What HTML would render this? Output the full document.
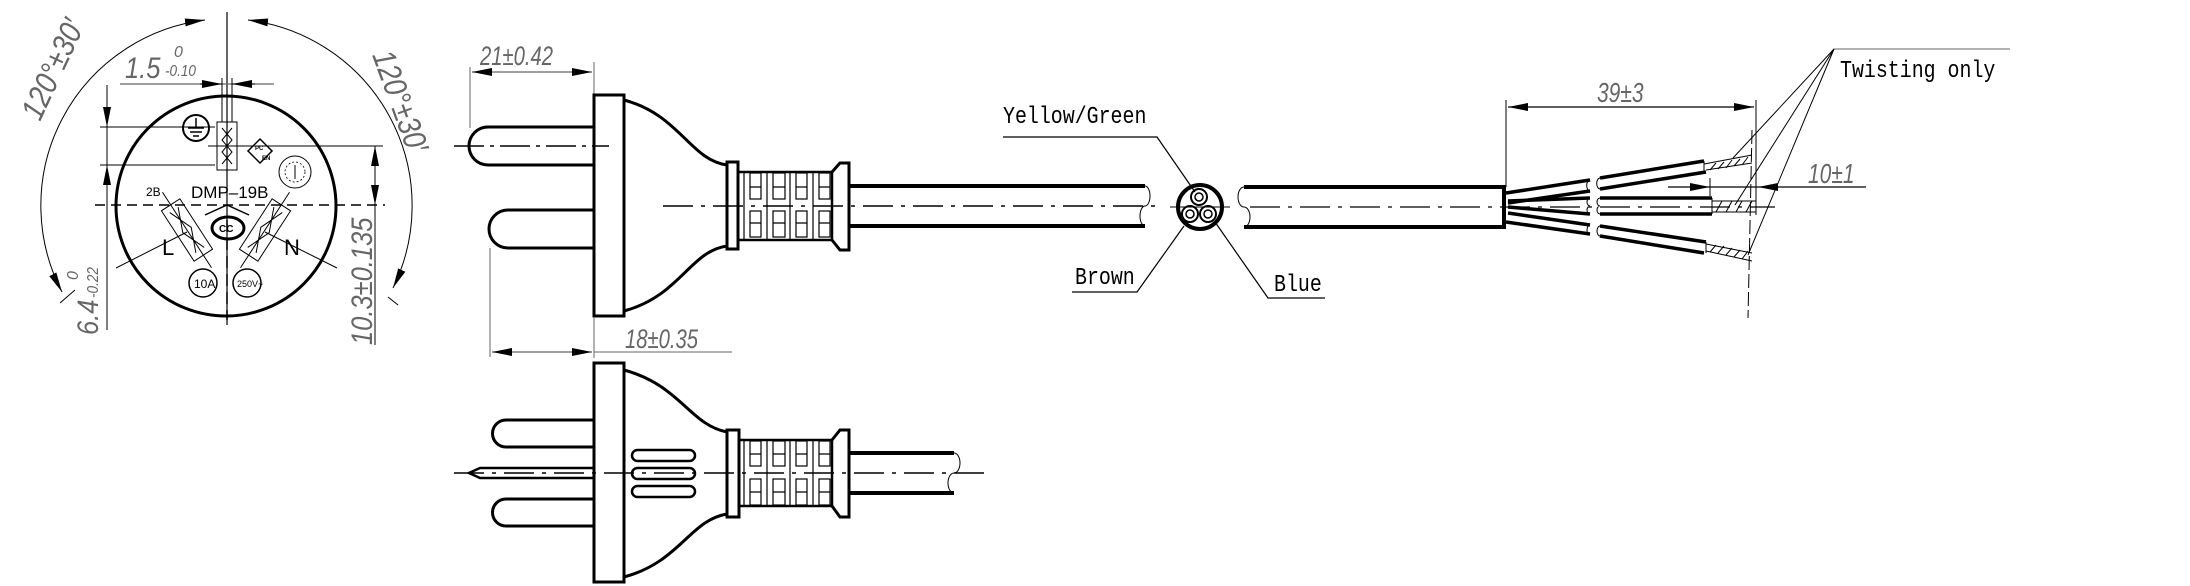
<!DOCTYPE html>
<html><head><meta charset="utf-8"><style>
html,body{margin:0;padding:0;background:#fff}
svg{display:block}
.t{font-family:"Liberation Mono","DejaVu Sans Mono",monospace;fill:#000}
.d{font-family:"Liberation Sans",sans-serif;font-style:italic;fill:#666}
.s{font-family:"Liberation Sans",sans-serif;fill:#000}
</style></head><body>
<svg width="2190" height="586" viewBox="0 0 2190 586" xmlns="http://www.w3.org/2000/svg">
<defs>
<marker id="a" viewBox="0 0 10 6" refX="10" refY="3" markerWidth="10" markerHeight="6" orient="auto-start-reverse" markerUnits="userSpaceOnUse"><path d="M0,0L10,3L0,6z" fill="#000"/></marker>
<marker id="b" viewBox="0 0 20 8" refX="20" refY="4" markerWidth="20" markerHeight="8" orient="auto-start-reverse" markerUnits="userSpaceOnUse"><path d="M0,0L20,4L0,8z" fill="#000"/></marker>
</defs>
<g fill="none" stroke="#000">
<circle cx="226" cy="206" r="110" stroke-width="3"/>
<line x1="227" y1="12" x2="227" y2="325" stroke-width="1.2"/>
<line x1="95" y1="205" x2="385" y2="205" stroke-width="1.5" stroke-dasharray="10,6"/>
<path d="M62,292 A187,187 0 0 1 205,20" stroke-width="1" marker-end="url(#b)" marker-start="url(#b)"/>
<path d="M248,20 A187,187 0 0 1 393,288" stroke-width="1" marker-end="url(#b)" marker-start="url(#b)"/>
<line x1="60" y1="303" x2="75" y2="290" stroke-width="1"/>
<line x1="388" y1="297" x2="398" y2="305" stroke-width="1"/>
<line x1="120" y1="84" x2="274" y2="84" stroke="#666" stroke-width="1.2"/>
<line x1="200" y1="84" x2="222" y2="84" marker-end="url(#b)"/>
<line x1="255" y1="84" x2="232" y2="84" marker-end="url(#b)"/>
<line x1="222" y1="78" x2="222" y2="122" stroke-width="1"/>
<line x1="232" y1="78" x2="232" y2="122" stroke-width="1"/>
<rect x="217" y="122" width="20" height="48" stroke-width="1"/>
<path d="M222,128 L232,140 L222,152 L232,164 M232,128 L222,140 L232,152 L222,164" stroke-width="1"/>
<line x1="208" y1="146" x2="383" y2="146" stroke-width="1"/>
<circle cx="196" cy="128" r="13" stroke-width="2"/>
<path d="M196,118v10M188,128h16M190,132h12M193,136h6" stroke-width="1.5"/>
<line x1="100" y1="127" x2="215" y2="127" stroke-width="1"/>
<line x1="100" y1="165" x2="215" y2="165" stroke-width="1"/>
<line x1="107" y1="85" x2="107" y2="330" stroke-width="1"/>
<line x1="107" y1="100" x2="107" y2="127" marker-end="url(#b)"/>
<line x1="107" y1="195" x2="107" y2="165" marker-end="url(#b)"/>
<line x1="375" y1="146" x2="375" y2="345" stroke-width="1"/>
<line x1="375" y1="175" x2="375" y2="146" marker-end="url(#b)"/>
<line x1="375" y1="180" x2="375" y2="205" marker-end="url(#b)"/>
<path d="M260,139 L272,151 L260,163 L248,151z" stroke-width="1.5"/>
<circle cx="295" cy="172" r="16" stroke-width="1"/>
<circle cx="295" cy="172" r="10" stroke-width="0.8" stroke-dasharray="2,2"/>
<line x1="295" y1="165" x2="295" y2="179" stroke-width="1"/>
<g transform="translate(187,230) rotate(-33)">
<rect x="-11" y="-30" width="22" height="60" stroke-width="1"/>
<path d="M-5,-24 L5,0 L-5,24 M5,-24 L-5,0 L5,24" stroke-width="1"/>
<line x1="0" y1="-45" x2="0" y2="45" stroke-width="1"/>
</g>
<g transform="translate(265,230) rotate(33)">
<rect x="-11" y="-30" width="22" height="60" stroke-width="1"/>
<path d="M-5,-24 L5,0 L-5,24 M5,-24 L-5,0 L5,24" stroke-width="1"/>
<line x1="0" y1="-45" x2="0" y2="45" stroke-width="1"/>
</g>
<line x1="116" y1="268" x2="187" y2="232" stroke-width="1"/>
<line x1="337" y1="268" x2="265" y2="232" stroke-width="1"/>
<path d="M205,215 L227,205 L249,215" stroke-width="1.5"/>
<ellipse cx="228" cy="228" rx="16" ry="11" stroke-width="3"/>
<circle cx="203" cy="283" r="14" stroke-width="1.5"/>
<circle cx="247" cy="283" r="14" stroke-width="1.5"/>
<line x1="227" y1="220" x2="227" y2="320" stroke-width="1.5" stroke-dasharray="12,6"/>

<line x1="470" y1="67" x2="470" y2="128" stroke="#666" stroke-width="1"/>
<line x1="594" y1="62" x2="594" y2="95" stroke="#666" stroke-width="1"/>
<line x1="472" y1="72" x2="592" y2="72" stroke="#666" stroke-width="1.2" marker-start="url(#b)" marker-end="url(#b)"/>
<line x1="490" y1="248" x2="490" y2="357" stroke="#666" stroke-width="1"/>
<line x1="594" y1="318" x2="594" y2="358" stroke="#666" stroke-width="1"/>
<line x1="492" y1="352" x2="592" y2="352" stroke="#666" stroke-width="1.2" marker-start="url(#b)" marker-end="url(#b)"/>
<line x1="594" y1="352" x2="732" y2="352" stroke="#666" stroke-width="1"/>
<rect x="594" y="95" width="30" height="221" stroke-width="3"/>
<path d="M594,127 H488 A19,19 0 0 0 488,165 H594" stroke-width="3"/>
<path d="M594,210 H508 A19,19 0 0 0 508,248 H594" stroke-width="3"/>
<line x1="454" y1="146" x2="609" y2="146" stroke-width="1.5" stroke-dasharray="30,6,4,6"/>
<path d="M624,100 C680,115 690,160 727,165" stroke-width="3"/>
<path d="M624,311 C680,296 690,251 727,246" stroke-width="3"/>
<rect x="727" y="162" width="11" height="87" stroke-width="3"/>
<rect x="738" y="172" width="94" height="68" stroke-width="2.5"/>
<g stroke-width="1.2">
<rect x="750" y="173" width="11" height="26"/><rect x="773" y="173" width="12" height="26"/><rect x="796" y="173" width="11" height="26"/><rect x="819" y="173" width="11" height="26"/>
<rect x="750" y="211" width="11" height="26"/><rect x="773" y="211" width="12" height="26"/><rect x="796" y="211" width="11" height="26"/><rect x="819" y="211" width="11" height="26"/>
<path d="M750,187h11M773,187h12M796,187h11M819,187h11M750,223h11M773,223h12M796,223h11M819,223h11"/>
<path d="M744,172v68M767,172v68M790,172v68M813,172v68"/>
</g>
<path d="M832,172 L840,163 H849 V250 H840 L832,240" stroke-width="3"/>
<line x1="849" y1="186" x2="1145" y2="186" stroke-width="4"/>
<line x1="849" y1="226" x2="1145" y2="226" stroke-width="4"/>
<path d="M1145,186 a5,10 0 0 1 0,20 a5,10 0 0 0 0,20" stroke-width="1"/>
<line x1="663" y1="206" x2="1162" y2="206" stroke-width="1.5" stroke-dasharray="30,8,4,8"/>

<circle cx="1200" cy="207" r="22" stroke-width="4"/>
<circle cx="1199" cy="197" r="8" stroke-width="2"/><circle cx="1199" cy="197" r="4" stroke-width="1.5"/>
<circle cx="1190" cy="214" r="8" stroke-width="2"/><circle cx="1190" cy="214" r="4" stroke-width="1.5"/>
<circle cx="1208" cy="214" r="8" stroke-width="2"/><circle cx="1208" cy="214" r="4" stroke-width="1.5"/>
<line x1="1170" y1="207" x2="1230" y2="207" stroke-width="1"/>
<path d="M1003,137 H1157 L1195,192" stroke-width="1.2"/>
<path d="M1072,292 H1137 L1184,226" stroke-width="1.2"/>
<path d="M1325,298 H1268 L1215,222" stroke-width="1.2"/>
<path d="M1244,187 a6,10 0 0 0 0,20 a6,10 0 0 1 0,20" stroke-width="1"/>
<line x1="1244" y1="187" x2="1504" y2="187" stroke-width="4"/>
<line x1="1244" y1="227" x2="1504" y2="227" stroke-width="4"/>
<line x1="1504" y1="185" x2="1504" y2="229" stroke-width="4"/>
<line x1="1250" y1="207" x2="1775" y2="207" stroke-width="1.2" stroke-dasharray="30,8,4,8"/>
<g stroke-width="3.5">
<path d="M1506,193 L1590,180 M1600,178 L1704,161"/>
<path d="M1508,203 L1590,191 M1600,189 L1706,172"/>
<path d="M1508,201 L1590,198 M1600,198 L1712,198"/>
<path d="M1508,207 L1590,214 M1600,214 L1712,214"/>
<path d="M1508,213 L1590,225 M1600,226 L1706,242"/>
<path d="M1506,222 L1590,234 M1600,236 L1704,253"/>
</g>
<g stroke-width="1">
<path d="M1590,180 a3,5 0 0 0 0,11 M1600,178 a3,5 0 0 0 0,11"/>
<path d="M1590,198 a3,4 0 0 0 0,8 a3,4 0 0 0 0,8 M1600,198 a3,4 0 0 0 0,8 a3,4 0 0 0 0,8"/>
<path d="M1590,225 a3,5 0 0 0 0,10 M1600,226 a3,5 0 0 0 0,10"/>
<path d="M1704,161 V172 M1712,198 V214 M1706,242 V253"/>
<path d="M1704,164 L1752,155 M1706,170 L1752,163"/>
<path d="M1712,201 H1756 M1712,212 H1756"/>
<path d="M1706,244 L1752,253 M1706,251 L1752,261"/>
<path d="M1710,170 L1716,163 M1718,169 L1724,162 M1726,168 L1732,160 M1734,166 L1740,159 M1742,165 L1748,157"/>
<path d="M1716,212 L1722,201 M1726,212 L1732,201 M1736,212 L1742,201 M1746,212 L1752,201"/>
<path d="M1710,252 L1716,245 M1718,253 L1724,246 M1726,255 L1732,248 M1734,257 L1740,250 M1742,259 L1748,251"/>
<path d="M1752,130 L1748,318" stroke-dasharray="14,4"/>
<line x1="1506" y1="100" x2="1506" y2="187"/>
<line x1="1756" y1="100" x2="1756" y2="215"/>
<line x1="1508" y1="107" x2="1754" y2="107" stroke-width="1.2" marker-start="url(#b)" marker-end="url(#b)"/>
<line x1="1668" y1="187" x2="1866" y2="187" stroke-width="1.2"/>
<line x1="1690" y1="187" x2="1710" y2="187" marker-end="url(#b)"/>
<line x1="1778" y1="187" x2="1758" y2="187" marker-end="url(#b)"/>
<line x1="1710" y1="178" x2="1710" y2="196"/>
<line x1="1834" y1="49" x2="2010" y2="49" stroke="#666"/>
<line x1="1834" y1="49" x2="1733" y2="158"/>
<line x1="1834" y1="49" x2="1735" y2="205"/>
<line x1="1834" y1="49" x2="1748" y2="255"/>
</g>

<rect x="594" y="363" width="30" height="219" stroke-width="3"/>
<path d="M594,420 H506 A13.5,13.5 0 0 0 506,447 H594" stroke-width="3"/>
<path d="M594,499 H506 A13.5,13.5 0 0 0 506,526 H594" stroke-width="3"/>
<path d="M594,468 H480 L469,473 L480,478 H594" stroke-width="2.5"/>
<line x1="454" y1="473" x2="985" y2="473" stroke-width="1.5" stroke-dasharray="30,8,4,8"/>
<path d="M624,370 C680,385 690,425 727,432" stroke-width="3"/>
<path d="M624,577 C680,562 690,520 727,514" stroke-width="3"/>
<rect x="632" y="450" width="63" height="11" rx="5.5" stroke-width="2.5"/>
<rect x="632" y="468" width="63" height="11" rx="5.5" stroke-width="2.5"/>
<rect x="632" y="486" width="63" height="11" rx="5.5" stroke-width="2.5"/>
<rect x="727" y="430" width="12" height="87" stroke-width="3"/>
<rect x="739" y="440" width="93" height="66" stroke-width="2.5"/>
<g stroke-width="1.2">
<rect x="750" y="441" width="11" height="25"/><rect x="773" y="441" width="12" height="25"/><rect x="796" y="441" width="11" height="25"/><rect x="819" y="441" width="11" height="25"/>
<rect x="750" y="479" width="11" height="26"/><rect x="773" y="479" width="12" height="26"/><rect x="796" y="479" width="11" height="26"/><rect x="819" y="479" width="11" height="26"/>
<path d="M750,454h11M773,454h12M796,454h11M819,454h11M750,492h11M773,492h12M796,492h11M819,492h11"/>
<path d="M744,440v66M767,440v66M790,440v66M813,440v66"/>
</g>
<path d="M832,440 L840,430 H849 V517 H840 L832,506" stroke-width="3"/>
<line x1="849" y1="453" x2="954" y2="453" stroke-width="4"/>
<line x1="849" y1="493" x2="954" y2="493" stroke-width="4"/>
<path d="M954,453 a6,10 0 0 1 0,20 a6,10 0 0 0 0,20" stroke-width="1"/>
</g>

<g class="d" font-size="30">
<text transform="translate(40,122) rotate(-65) scale(0.85,1)" font-size="32">120°±30′</text>
<text transform="translate(372,55) rotate(70) scale(0.85,1)" font-size="32">120°±30′</text>
<text transform="translate(125,78) scale(0.85,1)">1.5</text>
<text transform="translate(98,335) rotate(-90) scale(0.85,1)">6.4</text>
<text transform="translate(372,345) rotate(-90) scale(0.85,1)">10.3±0.135</text>
<text transform="translate(480,65) scale(0.75,1)" font-size="27">21±0.42</text>
<text transform="translate(625,348) scale(0.75,1)" font-size="27">18±0.35</text>
<text transform="translate(1597,102) scale(0.75,1)" font-size="28">39±3</text>
<text transform="translate(1808,183) scale(0.75,1)" font-size="28">10±1</text>
</g>
<g class="d" font-size="16">
<text transform="translate(174,57)">0</text>
<text transform="translate(165,76) scale(0.85,1)">-0.10</text>
<text transform="translate(78,280) rotate(-90)">0</text>
<text transform="translate(98,298) rotate(-90) scale(0.85,1)">-0.22</text>
</g>
<g class="s">
<text x="191" y="198" font-size="17">DMP–19B</text>
<text x="146" y="196" font-size="12">2B</text>
<text x="162" y="255" font-size="22">L</text>
<text x="284" y="255" font-size="22">N</text>
<text x="194" y="288" font-size="12">10A</text>
<text x="237" y="287" font-size="9">250V~</text>
<text x="219" y="232" font-size="10" font-weight="bold">CC</text>
<text x="255" y="150" font-size="6" font-weight="bold">PC</text>
<text x="262" y="160" font-size="6" font-weight="bold">EN</text>
</g>
<g class="t">
<text transform="translate(1003,123) scale(0.83,1)" font-size="24">Yellow/Green</text>
<text transform="translate(1075,284) scale(0.83,1)" font-size="24">Brown</text>
<text transform="translate(1274,291) scale(0.83,1)" font-size="24">Blue</text>
<text transform="translate(1840,77) scale(0.83,1)" font-size="24">Twisting only</text>
</g>
</svg>
</body></html>
